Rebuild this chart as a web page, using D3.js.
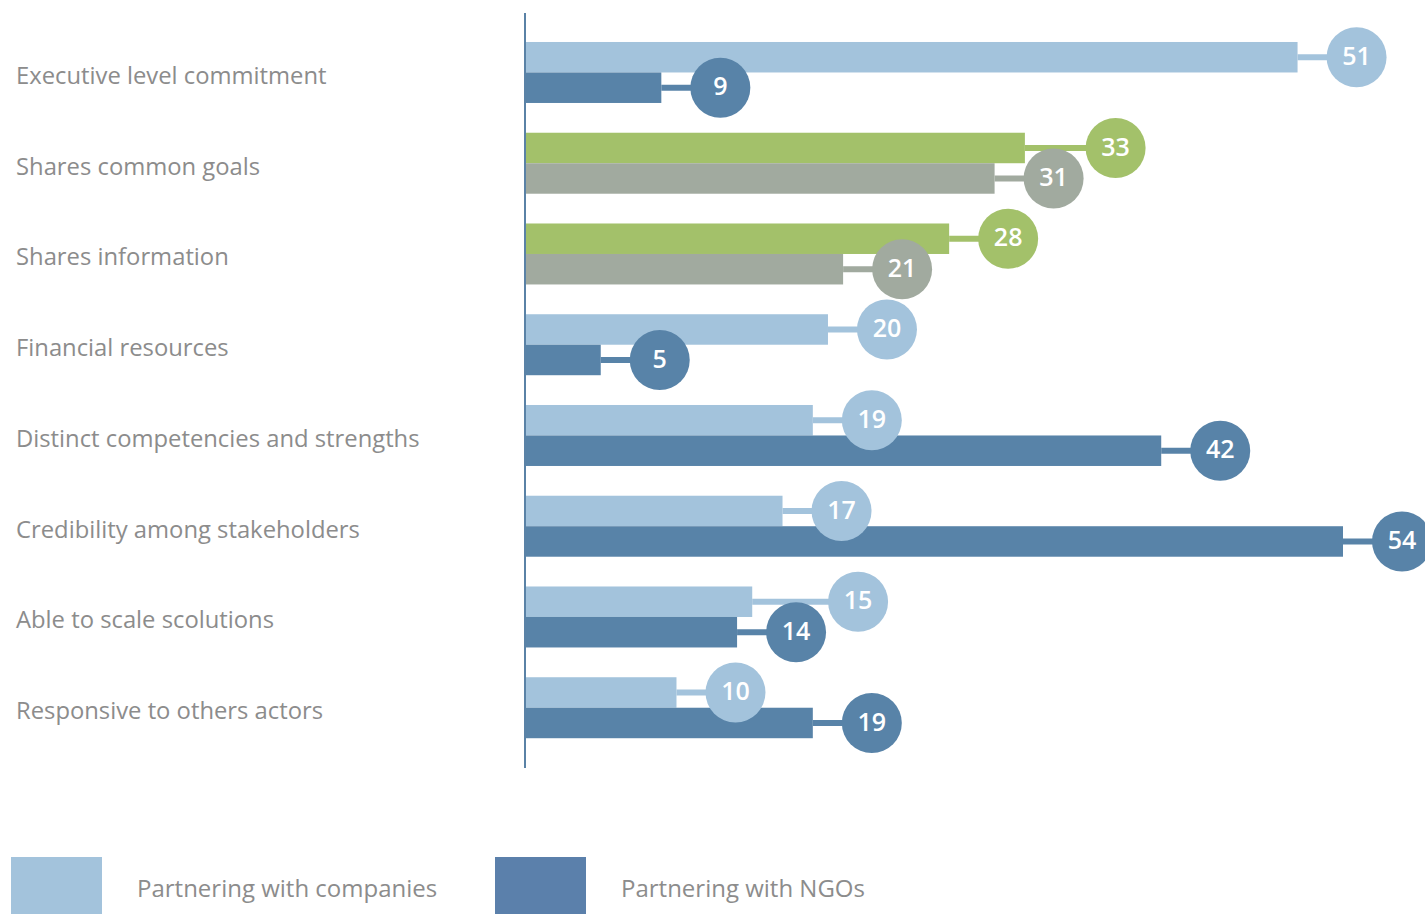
<!DOCTYPE html>
<html>
<head>
<meta charset="utf-8">
<script src="https://cdn.jsdelivr.net/npm/d3@7"></script>
<style>
  html, body { margin: 0; padding: 0; background: #ffffff; }
  svg { display: block; }
  .cat-label { font-family: "Open Sans", sans-serif; fill: #8c8c8c; }
  .val-label { font-family: "Open Sans", sans-serif; font-weight: 600; fill: #ffffff; }
  .legend-label { font-family: "Open Sans", sans-serif; fill: #8c8c8c; }
</style>
</head>
<body>
<svg id="chart" width="1425" height="914"></svg>
<script>
// Attributes, top to bottom
const categories = [
  "Executive level commitment",
  "Shares common goals",
  "Shares information",
  "Financial resources",
  "Distinct competencies and strengths",
  "Credibility among stakeholders",
  "Able to scale scolutions",
  "Responsive to others actors"
];
// Upper bar of each pair
const companiesValues = [51, 33, 28, 20, 19, 17, 15, 10];
// Lower bar of each pair
const ngoValues = [9, 31, 21, 5, 42, 54, 14, 19];
const seriesNames = ["Partnering with companies", "Partnering with NGOs"];

// Rows that use the shared green/grey palette instead of the blues
const sharedRows = ["Shares common goals", "Shares information"];
const bluePalette = ["#a3c3dc", "#5883a8"];
const sharedPalette = ["#a3c16a", "#a1aa9f"];
const legendColors = ["#a3c3dc", "#5b80ab"];

const svg = d3.select("#chart");
const axisX = 525;
const x = d3.scaleLinear().domain([0, 54]).range([axisX, 1343]);
const y = d3.scaleBand()
  .domain(categories)
  .range([27.1, 753.1])
  .paddingInner(0.328)
  .paddingOuter(0.164);

const barH = y.bandwidth() / 2;
const r = 30;
const gapToCircle = 59;

const rows = categories.map((c, i) => {
  const pal = sharedRows.includes(c) ? sharedPalette : bluePalette;
  const series = [companiesValues[i], ngoValues[i]].map((v, k) => ({
    cat: c, v, k, color: pal[k],
    yc: y(c) + barH * k + barH / 2,
    x1: x(v),
    cx: x(v) + gapToCircle
  }));
  // keep the upper bubble clear of the lower one
  if (Math.abs(series[0].cx - series[1].cx) < 2 * r) {
    series[0].cx = Math.max(series[0].cx, series[1].cx + 62);
  }
  return series;
});
const marks = rows.flat();

// category labels
svg.append("g").selectAll("text")
  .data(categories)
  .join("text")
  .attr("class", "cat-label")
  .attr("x", 16)
  .attr("y", d => y(d) + barH + 5)
  .attr("dominant-baseline", "middle")
  .attr("font-size", 23.8)
  .text(d => d);

// bars
svg.append("g").selectAll("rect")
  .data(marks)
  .join("rect")
  .attr("x", axisX)
  .attr("y", d => d.yc - barH / 2)
  .attr("width", d => d.x1 - axisX)
  .attr("height", barH)
  .attr("fill", d => d.color);

// connectors and bubbles: upper series first, then lower
[0, 1].forEach(k => {
  const g = svg.append("g");
  const sub = marks.filter(d => d.k === k);
  g.selectAll("line")
    .data(sub)
    .join("line")
    .attr("x1", d => d.x1)
    .attr("x2", d => d.cx)
    .attr("y1", d => d.yc)
    .attr("y2", d => d.yc)
    .attr("stroke", d => d.color)
    .attr("stroke-width", 6);
  g.selectAll("circle")
    .data(sub)
    .join("circle")
    .attr("cx", d => d.cx)
    .attr("cy", d => d.yc)
    .attr("r", r)
    .attr("fill", d => d.color);
  g.selectAll("text")
    .data(sub)
    .join("text")
    .attr("class", "val-label")
    .attr("x", d => d.cx)
    .attr("y", d => d.yc + 1)
    .attr("text-anchor", "middle")
    .attr("dominant-baseline", "middle")
    .attr("font-size", 25)
    .text(d => d.v);
});

// vertical axis line
svg.append("line")
  .attr("x1", axisX).attr("x2", axisX)
  .attr("y1", 13).attr("y2", 768)
  .attr("stroke", "#5a82a6")
  .attr("stroke-width", 2);

// legend
const legendX = [11, 495];
const legend = svg.append("g").selectAll("g")
  .data(seriesNames)
  .join("g")
  .attr("transform", (d, i) => `translate(${legendX[i]},857)`);
legend.append("rect")
  .attr("width", 91)
  .attr("height", 57)
  .attr("fill", (d, i) => legendColors[i]);
legend.append("text")
  .attr("class", "legend-label")
  .attr("x", 126)
  .attr("y", 34)
  .attr("dominant-baseline", "middle")
  .attr("font-size", 24)
  .text(d => d);
</script>
</body>
</html>
